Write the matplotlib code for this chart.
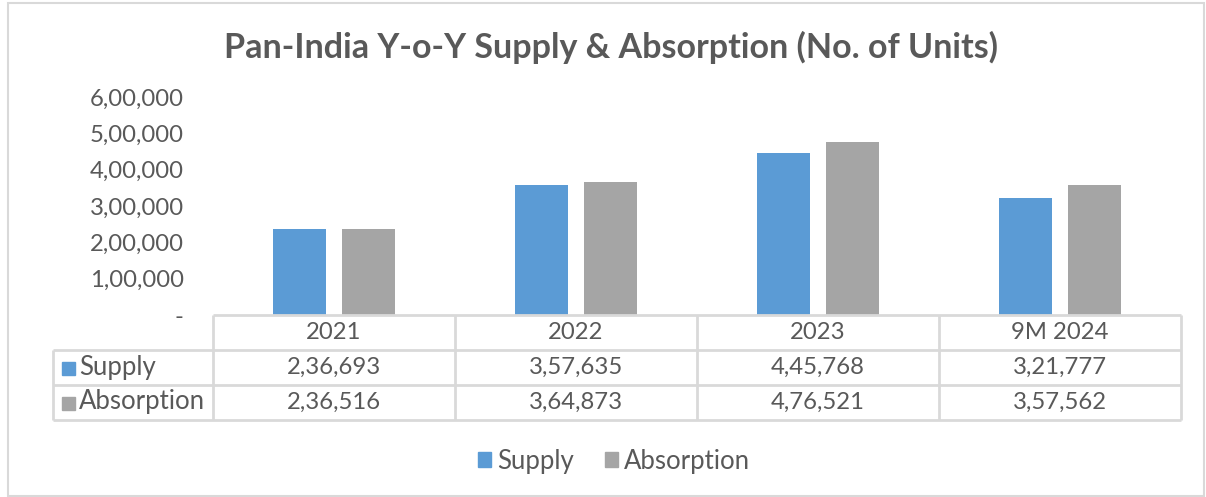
import matplotlib
matplotlib.use('Agg')
import matplotlib.pyplot as plt
from matplotlib.patches import Patch, Rectangle

CATS = ['2021', '2022', '2023', '9M 2024']
SUPPLY = [236693, 357635, 445768, 321777]
ABSORPTION = [236516, 364873, 476521, 357562]
YTICKS = [0, 100000, 200000, 300000, 400000, 500000, 600000]

BLUE, GREY, TXT, GRID = '#5B9BD5', '#A5A5A5', '#595959', '#D9D9D9'
plt.rcParams['font.family'] = ['Lato', 'DejaVu Sans']
NUM_FS, WORD_FS = 17.2, 18.5

W, H = 1206, 497


def inr(v):
    # Indian digit grouping: 2,36,693
    s = str(int(v))
    if len(s) <= 3:
        return s
    head, tail = s[:-3], s[-3:]
    parts = []
    while len(head) > 2:
        parts.insert(0, head[-2:])
        head = head[:-2]
    if head:
        parts.insert(0, head)
    return ','.join(parts + [tail])


def fx(px):
    return px / W


def fy(py):
    return 1 - py / H


fig = plt.figure(figsize=(W / 100, H / 100), dpi=100)

# outer chart border
fig.add_artist(Rectangle((fx(8), fy(496)), fx(1196), (496 - 3) / H, transform=fig.transFigure,
                         fill=False, edgecolor=GRID, lw=1.5))

# plot area
x0, x1, y0, y1 = 213, 1181, 315, 97
ax = fig.add_axes([fx(x0), fy(y0), fx(x1 - x0), (y0 - y1) / H])
xs = range(len(CATS))
bw, off = 0.223, 0.1425
ax.bar([x - off for x in xs], SUPPLY, bw, color=BLUE)
ax.bar([x + off for x in xs], ABSORPTION, bw, color=GREY)
ax.set_xlim(-0.5, len(CATS) - 0.5)
ax.set_ylim(0, 600000)
ax.set_yticks(YTICKS)
ax.set_yticklabels(['-' if v == 0 else inr(v) for v in YTICKS])
ax.tick_params(axis='y', length=0, pad=21, labelsize=NUM_FS, labelcolor=TXT)
ax.set_xticks([])
for s in ax.spines.values():
    s.set_visible(False)

fig.text(fx(611), fy(47), 'Pan-India Y-o-Y Supply & Absorption (No. of Units)',
         ha='center', va='center', fontsize=24.5, fontweight='bold', color=TXT)

# data table
lab_w = (x0 - 53) / ((x1 - x0) / len(CATS))
tab = fig.add_axes([fx(53), fy(420), fx(x1 - 53), (420 - 315) / H])
tab.set_xlim(-0.5 - lab_w, len(CATS) - 0.5)
tab.set_ylim(3, 0)
tab.axis('off')
kw = dict(color=GRID, lw=2, clip_on=False)
tab.hlines(0, -0.5, len(CATS) - 0.5, **kw)
for r in (1, 2, 3):
    tab.hlines(r, -0.5 - lab_w, len(CATS) - 0.5, **kw)
tab.vlines(-0.5 - lab_w, 1, 3, **kw)
for c in range(len(CATS) + 1):
    tab.vlines(c - 0.5, 0, 3, **kw)
for i, c in enumerate(CATS):
    tab.text(i, 0.5, c, ha='center', va='center', fontsize=NUM_FS, color=TXT)
    tab.text(i, 1.5, inr(SUPPLY[i]), ha='center', va='center', fontsize=NUM_FS, color=TXT)
    tab.text(i, 2.5, inr(ABSORPTION[i]), ha='center', va='center', fontsize=NUM_FS, color=TXT)
for r, (name, col) in enumerate([('Supply', BLUE), ('Absorption', GREY)]):
    fig.add_artist(Rectangle((fx(62), fy(375 + 35 * r)), fx(13), 13 / H,
                             transform=fig.transFigure, color=col))
    fig.text(fx(79), fy(367 + 35 * r), name, ha='left', va='center',
             fontsize=WORD_FS, color=TXT)

fig.legend(handles=[Patch(color=BLUE, label='Supply'), Patch(color=GREY, label='Absorption')],
           loc='center', bbox_to_anchor=(fx(614), fy(461)), ncol=2, frameon=False,
           fontsize=WORD_FS, labelcolor=TXT, handlelength=0.5, handleheight=0.5,
           handletextpad=0.25, columnspacing=1.2)

fig.savefig('out.png', dpi=100)
